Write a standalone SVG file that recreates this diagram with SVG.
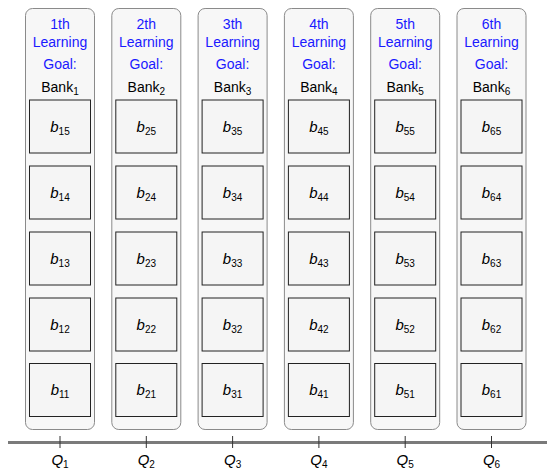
<svg xmlns="http://www.w3.org/2000/svg" width="547" height="469" viewBox="0 0 547 469">
<style>
.col{fill:#f7f7f7;stroke:#8a8a8a;stroke-width:1}
.box{fill:#f5f5f5;stroke:#222;stroke-width:1}
text{font-family:"Liberation Sans",Arial,sans-serif;text-anchor:middle}
.g{fill:#1a1aff;font-size:14px}
.k{fill:#000;font-size:14px}
.b{fill:#000;font-size:15px}
.i{font-style:italic}
.s{font-size:10px}
.axis{stroke:#7a7a7a;stroke-width:3}
.tick{stroke:#333;stroke-width:1}
</style>
<defs>
<g id="boxes">
<rect class="box" x="4.5" y="100" width="61" height="53"/>
<rect class="box" x="4.5" y="166" width="61" height="53"/>
<rect class="box" x="4.5" y="232" width="61" height="53"/>
<rect class="box" x="4.5" y="298" width="61" height="53"/>
<rect class="box" x="4.5" y="363.5" width="61" height="53"/>
</g>
</defs>
<g id="connectors">
<line class="axis" x1="8" y1="442.5" x2="547" y2="442.5"/>
</g>
<g id="col1" transform="translate(25,0)">
<rect class="col" x="0.5" y="8.5" width="69" height="421" rx="7"/>
<text class="g" x="35" y="29">1th</text><text class="g" x="35" y="47">Learning</text><text class="g" x="35" y="69">Goal:</text>
<text class="k" x="35" y="92">Bank<tspan class="s" dy="3">1</tspan></text>
<use href="#boxes"/>
<text class="b" x="35" y="132"><tspan class="i">b</tspan><tspan class="s" dy="3">15</tspan></text>
<text class="b" x="35" y="198"><tspan class="i">b</tspan><tspan class="s" dy="3">14</tspan></text>
<text class="b" x="35" y="264"><tspan class="i">b</tspan><tspan class="s" dy="3">13</tspan></text>
<text class="b" x="35" y="330"><tspan class="i">b</tspan><tspan class="s" dy="3">12</tspan></text>
<text class="b" x="35" y="395"><tspan class="i">b</tspan><tspan class="s" dy="3">11</tspan></text>
</g>
<g id="col2" transform="translate(111.3,0)">
<rect class="col" x="0.5" y="8.5" width="69" height="421" rx="7"/>
<text class="g" x="35" y="29">2th</text><text class="g" x="35" y="47">Learning</text><text class="g" x="35" y="69">Goal:</text>
<text class="k" x="35" y="92">Bank<tspan class="s" dy="3">2</tspan></text>
<use href="#boxes"/>
<text class="b" x="35" y="132"><tspan class="i">b</tspan><tspan class="s" dy="3">25</tspan></text>
<text class="b" x="35" y="198"><tspan class="i">b</tspan><tspan class="s" dy="3">24</tspan></text>
<text class="b" x="35" y="264"><tspan class="i">b</tspan><tspan class="s" dy="3">23</tspan></text>
<text class="b" x="35" y="330"><tspan class="i">b</tspan><tspan class="s" dy="3">22</tspan></text>
<text class="b" x="35" y="395"><tspan class="i">b</tspan><tspan class="s" dy="3">21</tspan></text>
</g>
<g id="col3" transform="translate(197.6,0)">
<rect class="col" x="0.5" y="8.5" width="69" height="421" rx="7"/>
<text class="g" x="35" y="29">3th</text><text class="g" x="35" y="47">Learning</text><text class="g" x="35" y="69">Goal:</text>
<text class="k" x="35" y="92">Bank<tspan class="s" dy="3">3</tspan></text>
<use href="#boxes"/>
<text class="b" x="35" y="132"><tspan class="i">b</tspan><tspan class="s" dy="3">35</tspan></text>
<text class="b" x="35" y="198"><tspan class="i">b</tspan><tspan class="s" dy="3">34</tspan></text>
<text class="b" x="35" y="264"><tspan class="i">b</tspan><tspan class="s" dy="3">33</tspan></text>
<text class="b" x="35" y="330"><tspan class="i">b</tspan><tspan class="s" dy="3">32</tspan></text>
<text class="b" x="35" y="395"><tspan class="i">b</tspan><tspan class="s" dy="3">31</tspan></text>
</g>
<g id="col4" transform="translate(283.9,0)">
<rect class="col" x="0.5" y="8.5" width="69" height="421" rx="7"/>
<text class="g" x="35" y="29">4th</text><text class="g" x="35" y="47">Learning</text><text class="g" x="35" y="69">Goal:</text>
<text class="k" x="35" y="92">Bank<tspan class="s" dy="3">4</tspan></text>
<use href="#boxes"/>
<text class="b" x="35" y="132"><tspan class="i">b</tspan><tspan class="s" dy="3">45</tspan></text>
<text class="b" x="35" y="198"><tspan class="i">b</tspan><tspan class="s" dy="3">44</tspan></text>
<text class="b" x="35" y="264"><tspan class="i">b</tspan><tspan class="s" dy="3">43</tspan></text>
<text class="b" x="35" y="330"><tspan class="i">b</tspan><tspan class="s" dy="3">42</tspan></text>
<text class="b" x="35" y="395"><tspan class="i">b</tspan><tspan class="s" dy="3">41</tspan></text>
</g>
<g id="col5" transform="translate(370.2,0)">
<rect class="col" x="0.5" y="8.5" width="69" height="421" rx="7"/>
<text class="g" x="35" y="29">5th</text><text class="g" x="35" y="47">Learning</text><text class="g" x="35" y="69">Goal:</text>
<text class="k" x="35" y="92">Bank<tspan class="s" dy="3">5</tspan></text>
<use href="#boxes"/>
<text class="b" x="35" y="132"><tspan class="i">b</tspan><tspan class="s" dy="3">55</tspan></text>
<text class="b" x="35" y="198"><tspan class="i">b</tspan><tspan class="s" dy="3">54</tspan></text>
<text class="b" x="35" y="264"><tspan class="i">b</tspan><tspan class="s" dy="3">53</tspan></text>
<text class="b" x="35" y="330"><tspan class="i">b</tspan><tspan class="s" dy="3">52</tspan></text>
<text class="b" x="35" y="395"><tspan class="i">b</tspan><tspan class="s" dy="3">51</tspan></text>
</g>
<g id="col6" transform="translate(456.5,0)">
<rect class="col" x="0.5" y="8.5" width="69" height="421" rx="7"/>
<text class="g" x="35" y="29">6th</text><text class="g" x="35" y="47">Learning</text><text class="g" x="35" y="69">Goal:</text>
<text class="k" x="35" y="92">Bank<tspan class="s" dy="3">6</tspan></text>
<use href="#boxes"/>
<text class="b" x="35" y="132"><tspan class="i">b</tspan><tspan class="s" dy="3">65</tspan></text>
<text class="b" x="35" y="198"><tspan class="i">b</tspan><tspan class="s" dy="3">64</tspan></text>
<text class="b" x="35" y="264"><tspan class="i">b</tspan><tspan class="s" dy="3">63</tspan></text>
<text class="b" x="35" y="330"><tspan class="i">b</tspan><tspan class="s" dy="3">62</tspan></text>
<text class="b" x="35" y="395"><tspan class="i">b</tspan><tspan class="s" dy="3">61</tspan></text>
</g>
<g id="ticks">
<line class="tick" x1="60" y1="436" x2="60" y2="448"/>
<line class="tick" x1="146.3" y1="436" x2="146.3" y2="448"/>
<line class="tick" x1="232.6" y1="436" x2="232.6" y2="448"/>
<line class="tick" x1="318.9" y1="436" x2="318.9" y2="448"/>
<line class="tick" x1="405.2" y1="436" x2="405.2" y2="448"/>
<line class="tick" x1="491.5" y1="436" x2="491.5" y2="448"/>
</g>
<g id="labels">
<text class="b" x="60" y="465"><tspan class="i">Q</tspan><tspan class="s" dy="3">1</tspan></text>
<text class="b" x="146.3" y="465"><tspan class="i">Q</tspan><tspan class="s" dy="3">2</tspan></text>
<text class="b" x="232.6" y="465"><tspan class="i">Q</tspan><tspan class="s" dy="3">3</tspan></text>
<text class="b" x="318.9" y="465"><tspan class="i">Q</tspan><tspan class="s" dy="3">4</tspan></text>
<text class="b" x="405.2" y="465"><tspan class="i">Q</tspan><tspan class="s" dy="3">5</tspan></text>
<text class="b" x="491.5" y="465"><tspan class="i">Q</tspan><tspan class="s" dy="3">6</tspan></text>
</g>
</svg>
